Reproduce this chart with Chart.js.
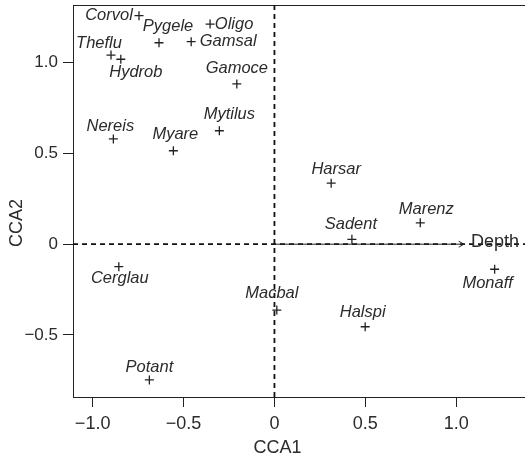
<!DOCTYPE html>
<html><head><meta charset="utf-8">
<script src="https://cdn.jsdelivr.net/npm/chart.js@4.4.1/dist/chart.umd.min.js"></script>
<style>html,body{margin:0;padding:0;background:#fff;} #wrap{width:525px;height:457px;}</style>
</head><body><div id="wrap"><canvas id="c" width="525" height="457"></canvas></div>
<script>
// ---- data ----
const species = ['Corvol','Pygele','Oligo','Gamsal','Theflu','Hydrob','Gamoce','Mytilus','Nereis','Myare','Cerglau','Macbal','Potant','Harsar','Marenz','Sadent','Monaff','Halspi'];
const cca1 = [-0.745,-0.635,-0.354,-0.458,-0.899,-0.845,-0.207,-0.303,-0.886,-0.556,-0.856,0.013,-0.688,0.312,0.802,0.426,1.211,0.499];
const cca2 = [1.259,1.110,1.213,1.116,1.042,1.019,0.883,0.625,0.580,0.515,-0.124,-0.363,-0.748,0.336,0.118,0.027,-0.138,-0.455];
const envName = ['Depth'];
const envCca1 = [1.042];
const envCca2 = [0];
const xTicks = [-1, -0.5, 0, 0.5, 1];
const yTicks = [-0.5, 0, 0.5, 1];
const xTitle = 'CCA1';
const yTitle = 'CCA2';
// ---- layout only: label nudges in pixels relative to each point ----
const labelNudge = [[-30,0],[9,-16],[24,0],[37,0],[-12,-12],[15,13],[0,-16],[10,-16],[-3,-13],[2,-16],[1,12],[-5,-17],[0,-13],[5,-14],[6,-13],[-1,-15],[-7,14],[-2.5,-14]];

const FONT = "'Liberation Sans', Arial, Helvetica, sans-serif";
const INK = '#222';
const TXT = '#2b2b2b';
const fmt = v => v === 0 ? '0' : (v < 0 ? '\u2212' : '') + Math.abs(v).toFixed(1);

const framePlugin = {
  id: 'frame',
  beforeDatasetsDraw(chart) {
    const {ctx, chartArea: a, scales: {x: xs, y: ys}} = chart;
    ctx.save();
    ctx.strokeStyle = INK; ctx.lineWidth = 1;
    ctx.beginPath(); ctx.moveTo(a.left, a.top + 0.5); ctx.lineTo(a.right, a.top + 0.5); ctx.stroke();
    const x0 = xs.getPixelForValue(0), y0 = ys.getPixelForValue(0);
    ctx.setLineDash([5, 4]); ctx.lineWidth = 1.8; ctx.strokeStyle = '#111';
    ctx.beginPath(); ctx.moveTo(x0, a.top); ctx.lineTo(x0, a.bottom); ctx.stroke();
    ctx.beginPath(); ctx.moveTo(a.left, y0); ctx.lineTo(a.right, y0); ctx.stroke();
    ctx.restore();
  },
  afterDatasetsDraw(chart) {
    const {ctx, chartArea: a, scales: {x: xs, y: ys}} = chart;
    ctx.save();
    const x0 = xs.getPixelForValue(0), y0 = ys.getPixelForValue(0);
    envName.forEach((n, i) => {
      const x1 = xs.getPixelForValue(envCca1[i]), y1 = ys.getPixelForValue(envCca2[i]);
      ctx.strokeStyle = INK; ctx.lineWidth = 1; ctx.setLineDash([]);
      ctx.beginPath(); ctx.moveTo(x0, y0); ctx.lineTo(x1, y1); ctx.stroke();
      const ang = Math.atan2(y1 - y0, x1 - x0), L = 6, w = Math.PI / 6;
      ctx.beginPath();
      ctx.moveTo(x1 - L * Math.cos(ang - w), y1 - L * Math.sin(ang - w));
      ctx.lineTo(x1, y1);
      ctx.lineTo(x1 - L * Math.cos(ang + w), y1 - L * Math.sin(ang + w));
      ctx.stroke();
      ctx.fillStyle = TXT; ctx.font = '18px ' + FONT;
      ctx.textAlign = 'left'; ctx.textBaseline = 'middle';
      ctx.fillText(n, x1 + 7, y1 - 2);
    });
    ctx.fillStyle = TXT; ctx.font = 'italic 16.5px ' + FONT;
    ctx.textAlign = 'center'; ctx.textBaseline = 'middle';
    species.forEach((s, i) => {
      const px = xs.getPixelForValue(cca1[i]), py = ys.getPixelForValue(cca2[i]);
      ctx.fillText(s, px + labelNudge[i][0], py + labelNudge[i][1]);
    });
    ctx.font = '18px ' + FONT; ctx.fillStyle = TXT;
    ctx.fillText(xTitle, x0 + 3, 448);
    ctx.translate(17, 223); ctx.rotate(-Math.PI / 2);
    ctx.fillText(yTitle, 0, 0);
    ctx.restore();
  }
};

new Chart(document.getElementById('c').getContext('2d'), {
  type: 'scatter',
  data: { datasets: [{
    data: species.map((s, i) => ({x: cca1[i], y: cca2[i]})),
    pointStyle: 'cross', pointRadius: 4.5, pointHoverRadius: 4.5,
    borderColor: INK, backgroundColor: INK, borderWidth: 1.3, clip: false
  }]},
  options: {
    responsive: false, animation: false, events: [],
    layout: { autoPadding: false, padding: { top: 5, right: 0, left: 0, bottom: 0 } },
    plugins: { legend: { display: false }, tooltip: { enabled: false } },
    scales: {
      x: {
        type: 'linear', min: -1.108, max: 1.378,
        afterBuildTicks: s => { s.ticks = xTicks.map(v => ({value: v})); },
        afterFit: s => { s.height = 60; s.paddingLeft = 0; s.paddingRight = 0; },
        ticks: { callback: fmt, font: { family: FONT, size: 18 }, color: TXT, padding: 6, maxRotation: 0, autoSkip: false },
        grid: { drawOnChartArea: false, drawTicks: true, tickLength: 10, tickColor: INK, tickWidth: 1 },
        border: { display: true, color: INK, width: 1 }
      },
      y: {
        type: 'linear', min: -0.842, max: 1.318,
        afterBuildTicks: s => { s.ticks = yTicks.map(v => ({value: v})); },
        afterFit: s => { s.width = 73; s.paddingTop = 0; s.paddingBottom = 0; },
        ticks: { callback: fmt, font: { family: FONT, size: 17 }, color: TXT, padding: 5, autoSkip: false },
        grid: { drawOnChartArea: false, drawTicks: true, tickLength: 10, tickColor: INK, tickWidth: 1 },
        border: { display: true, color: INK, width: 1 }
      }
    }
  },
  plugins: [framePlugin]
});
</script></body></html>
